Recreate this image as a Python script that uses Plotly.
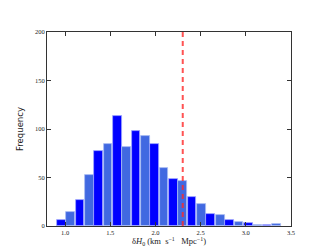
import plotly.graph_objects as go

bin_centers = [0.957, 1.060, 1.164, 1.267, 1.371, 1.474, 1.578, 1.681, 1.785,
               1.888, 1.992, 2.095, 2.199, 2.302, 2.406, 2.509, 2.613, 2.716,
               2.820, 2.923, 3.027, 3.130, 3.234, 3.337]
counts = [6, 14, 27, 53, 77, 85, 113, 81, 98, 93, 85, 60, 48, 46, 30, 23, 12,
          11, 6, 4, 3, 1, 1, 2]
bin_width = 0.1035
threshold = 2.302
x_ticks = [1.0, 1.5, 2.0, 2.5, 3.0, 3.5]
y_ticks = [0, 50, 100, 150, 200]

colors = ["#0000ff" if i % 2 == 0 else "#4169e1" for i in range(len(counts))]
edges = ["#a0a8ff" if i % 2 == 0 else "#a8bcf2" for i in range(len(counts))]

fig = go.Figure()
fig.add_trace(go.Bar(
    x=bin_centers, y=counts, width=[bin_width * 0.93] * len(counts),
    marker=dict(color=colors, line=dict(color=edges, width=0.8)),
    showlegend=False,
))
fig.add_trace(go.Scatter(
    x=[threshold, threshold], y=[0, 200], mode="lines",
    line=dict(color="rgba(255,40,40,0.8)", width=2, dash="5px,4px"),
    showlegend=False,
))

axis_common = dict(
    showline=True, linecolor="#333333", linewidth=1, mirror="ticks",
    ticks="inside", ticklen=4, tickcolor="#333333", showgrid=False,
    zeroline=False, tickfont=dict(family="Liberation Serif", size=6.5, color="#222222"),
)
fig.update_xaxes(range=[0.8, 3.5], tickvals=x_ticks,
                 ticktext=[f"{v:.1f}" for v in x_ticks],
                 title=dict(text="δ<i>H</i><sub>0</sub> (km  s<sup>−1</sup>   Mpc<sup>−1</sup>)",
                            font=dict(family="Liberation Serif", size=8.5, color="#222222"),
                            standoff=2),
                 **axis_common)
fig.update_yaxes(range=[0, 200], tickvals=y_ticks,
                 title=dict(text="Frequency",
                            font=dict(family="DejaVu Sans", size=8.5, color="#222222"),
                            standoff=9),
                 **axis_common)
fig.update_layout(
    width=315, height=248,
    margin=dict(l=39, r=32, t=24, b=25),
    paper_bgcolor="white", plot_bgcolor="white",
    bargap=0,
)
fig.write_html("out.html")
